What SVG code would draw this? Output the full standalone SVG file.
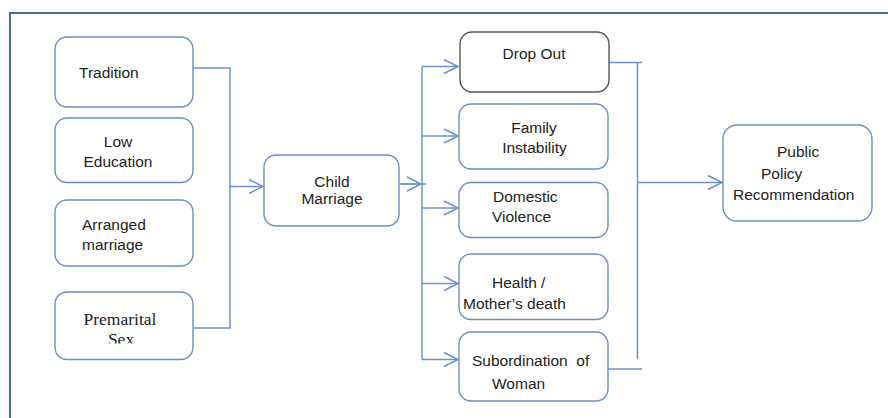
<svg xmlns="http://www.w3.org/2000/svg" width="888" height="418" viewBox="0 0 888 418">
<style>
.box{fill:#fff;stroke:#6f8dbf;stroke-width:1.4}
.dark{stroke:#555}
.t{font-family:"Liberation Sans",Arial,sans-serif;font-size:15.5px;fill:#222}
.s{font-family:"Liberation Serif","Times New Roman",serif;font-size:17.5px;fill:#222}
.m{text-anchor:middle}
.c{fill:none;stroke:#6b93cb;stroke-width:1.5}
.frame{fill:none;stroke:#4b6a98;stroke-width:2}
</style>
<defs>
<marker id="arr" viewBox="-16 -9 18 18" markerWidth="18" markerHeight="18" refX="0" refY="0" orient="auto" markerUnits="userSpaceOnUse">
<path d="M-14,-7 L0,0 L-14,7" fill="none" stroke="#6b93cb" stroke-width="1.5"/>
</marker>
<clipPath id="sexclip"><rect x="56" y="292" width="136" height="51.5"/></clipPath>
</defs>
<rect width="888" height="418" fill="#fff"/>
<path class="frame" d="M10,418 V13 H888"/>
<g id="connectors">
<path class="c" d="M193,68 H230 V328 H193"/>
<path class="c" d="M230,186.5 H263" marker-end="url(#arr)"/>
<path class="c" d="M399,184 H426"/>
<path class="c" d="M399,184 H421" marker-end="url(#arr)"/>
<path class="c" d="M422,66.5 V359.5"/>
<path class="c" d="M422,66.5 H458" marker-end="url(#arr)"/>
<path class="c" d="M422,136 H458" marker-end="url(#arr)"/>
<path class="c" d="M422,208 H458" marker-end="url(#arr)"/>
<path class="c" d="M422,283.5 H458" marker-end="url(#arr)"/>
<path class="c" d="M422,359.5 H458" marker-end="url(#arr)"/>
<path class="c" d="M609,62.5 H642"/>
<path class="c" d="M637.5,62.5 V359"/>
<path class="c" d="M608,369 H642"/>
<path class="c" d="M637.5,182.5 H722" marker-end="url(#arr)"/>
</g>
<g id="tradition">
<rect class="box" x="55" y="37" width="138" height="70" rx="12"/>
<text class="t" x="79" y="78">Tradition</text>
</g>
<g id="low-education">
<rect class="box" x="55" y="118" width="138" height="64.5" rx="12"/>
<text class="t m" x="118" y="147">Low</text>
<text class="t m" x="118" y="167">Education</text>
</g>
<g id="arranged-marriage">
<rect class="box" x="55" y="200" width="138" height="66" rx="12"/>
<text class="t" x="82" y="230">Arranged</text>
<text class="t" x="82" y="250">marriage</text>
</g>
<g id="premarital-sex">
<rect class="box" x="55" y="292" width="138" height="67.5" rx="12"/>
<text class="s m" x="120" y="325">Premarital</text>
<text class="s m" x="121" y="345" clip-path="url(#sexclip)">Sex</text>
</g>
<g id="child-marriage">
<rect class="box" x="264" y="155" width="135" height="71" rx="12"/>
<text class="t m" x="332" y="187">Child</text>
<text class="t m" x="332" y="204">Marriage</text>
</g>
<g id="drop-out">
<rect class="box dark" x="460" y="32" width="149" height="60" rx="12"/>
<text class="t m" x="534" y="59">Drop Out</text>
</g>
<g id="family-instability">
<rect class="box" x="459" y="104" width="149" height="65" rx="12"/>
<text class="t m" x="534" y="133">Family</text>
<text class="t m" x="534.5" y="153">Instability</text>
</g>
<g id="domestic-violence">
<rect class="box" x="459" y="182.5" width="149" height="55" rx="12"/>
<text class="t" x="493" y="202">Domestic</text>
<text class="t" x="492" y="222">Violence</text>
</g>
<g id="health">
<rect class="box" x="459" y="254" width="149" height="65.5" rx="12"/>
<text class="t" x="492" y="288">Health /</text>
<text class="t" x="463" y="309">Mother’s death</text>
</g>
<g id="subordination">
<rect class="box" x="459" y="332" width="149" height="69" rx="12"/>
<text class="t" x="472" y="366" xml:space="preserve">Subordination  of</text>
<text class="t" x="492" y="389">Woman</text>
</g>
<g id="public-policy">
<rect class="box" x="723" y="125" width="149" height="96" rx="14"/>
<text class="t" x="777" y="157">Public</text>
<text class="t" x="761" y="179">Policy</text>
<text class="t" x="733" y="200">Recommendation</text>
</g>
</svg>
